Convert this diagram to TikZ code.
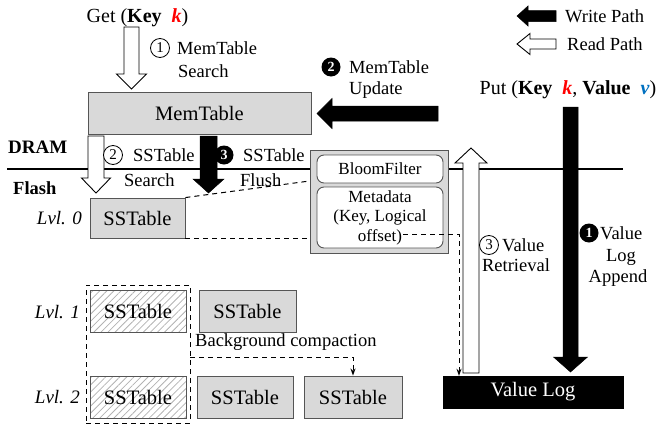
\documentclass[tikz,border=0pt]{standalone}
\usepackage{fontspec}
\setmainfont{Liberation Serif}
\usetikzlibrary{patterns.meta,arrows.meta}
\definecolor{boxgray}{HTML}{D9D9D9}
\definecolor{edgegray}{HTML}{555555}
\definecolor{vblue}{HTML}{0070C0}
\newcommand{\varr}[7]{%
 \draw[#1] ({#2-#6},#3) -- ({#2-#6},#4) -- ({#2-#7},#4) -- (#2,#5) -- ({#2+#7},#4) -- ({#2+#6},#4) -- ({#2+#6},#3) -- cycle;}
\newcommand{\harr}[7]{%
 \draw[#1] (#3,{#2-#6}) -- (#4,{#2-#6}) -- (#4,{#2-#7}) -- (#5,#2) -- (#4,{#2+#7}) -- (#4,{#2+#6}) -- (#3,{#2+#6}) -- cycle;}
\tikzset{
  wblock/.style={draw=black, fill=white, line width=0.9pt, line join=miter},
  bblock/.style={draw=black, fill=black, line width=0.5pt, line join=miter},
  lbl/.style={inner sep=0pt, font=\fontsize{18.5}{20}\selectfont},
  lvl/.style={inner sep=0pt, font=\fontsize{19}{20}\selectfont\itshape},
  bigbox/.style={draw=edgegray, fill=boxgray, line width=0.9pt, inner sep=0pt, font=\fontsize{20.5}{22}\selectfont},
  hatchbox/.style={draw=edgegray, line width=0.9pt, inner sep=0pt, font=\fontsize{20.5}{22}\selectfont,
     pattern={Lines[angle=45,distance=5pt,line width=0.8pt]}, pattern color=gray!60},
  rbox/.style={draw=edgegray, fill=white, rounded corners=7pt, line width=0.9pt, inner sep=0pt, align=center,
     font=\fontsize{17}{20}\selectfont},
  wcirc/.style={circle, draw=black, line width=0.8pt, fill=white, minimum size=19pt, inner sep=0pt,
     font=\fontsize{15}{15}\selectfont},
  bcirc/.style={circle, fill=black, text=white, minimum size=19pt, inner sep=0pt,
     font=\fontsize{14}{14}\selectfont\bfseries},
  dsh/.style={dashed, dash pattern=on 5pt off 4pt, line width=1pt},
}
\begin{document}
\begin{tikzpicture}[x=1pt,y=-1pt]
\useasboundingbox (0,0) rectangle (665,426);
% DRAM / Flash line
\coordinate (lineL) at (7,169);
\coordinate (lineR) at (623,169);
\draw[line width=2.5pt] (lineL) -- (lineR);
\node[inner sep=0pt, font=\fontsize{19}{20}\selectfont\bfseries, anchor=west] (dram) at (8,147) {DRAM};
\node[inner sep=0pt, font=\fontsize{18.5}{20}\selectfont\bfseries, anchor=west] (flash) at (13,188) {Flash};

% Legend
\harr{bblock}{16}{556}{528}{517}{5.5}{10}
\node[lbl, anchor=west] (wp) at (565,16) {Write Path};
\harr{wblock}{44}{556}{530}{517}{5}{10.5}
\node[lbl, anchor=west] (rp) at (567,44) {Read Path};

% Get
\node[inner sep=0pt, font=\fontsize{20}{22}\selectfont] (get) at (137.5,18) {Get (\textbf{Key}\ \ \textcolor{red}{\textbf{\textit{k}}})};
\varr{wblock}{131.5}{27}{74}{89}{7.5}{15}
\node[wcirc] (c1) at (160,48) {1};
\node[lbl, anchor=west] (ms1) at (177,48) {MemTable};
\node[lbl, anchor=west] (ms2) at (178,71) {Search};

% MemTable
\node[bigbox, minimum width=223pt, minimum height=42pt] (mem) at (199.5,113) {MemTable};

% MemTable Update
\harr{bblock}{113.5}{438}{332}{317}{7.5}{15}
\node[bcirc] (c2b) at (331,67) {2};
\node[lbl, anchor=west] (mu1) at (349,67) {MemTable};
\node[lbl, anchor=west] (mu2) at (349,90) {Update};

% Put
\node[inner sep=0pt, font=\fontsize{20}{22}\selectfont] (put) at (568,90)
  {Put (\textbf{Key}\ \ \textcolor{red}{\textbf{\textit{k}}}, \textbf{Value}\ \ \textcolor{vblue}{\textbf{\textit{v}}})};
\varr{bblock}{570.5}{107}{357}{372}{7.5}{17}
\node[bcirc] (c1b) at (589,233) {1};
\node[lbl, anchor=west] (va1) at (600,233) {Value};
\node[lbl] (va2) at (621,257) {Log};
\node[lbl] (va3) at (618,278) {Append};

% SSTable search / flush
\varr{wblock}{96}{136}{178}{193}{8}{14.5}
\node[wcirc] (c2) at (113,155) {2};
\node[lbl, anchor=west] (ss1) at (133,155) {SSTable};
\node[lbl, anchor=west] (ss2) at (124,180) {Search};
\varr{bblock}{208.5}{136}{179}{193}{8.5}{15.5}
\node[bcirc] (c3b) at (224,155) {3};
\node[lbl, anchor=west] (sf1) at (243,155) {SSTable};
\node[lbl, anchor=west] (sf2) at (240,180) {Flush};

% Level 0
\node[lvl, anchor=east] (l0) at (82,218) {Lvl. 0};
\node[bigbox, minimum width=95pt, minimum height=40pt] (sst0) at (137.5,218) {SSTable};

% metadata container
\node[draw=edgegray, fill=boxgray, line width=0.9pt, minimum width=138pt, minimum height=103pt, inner sep=0pt] (meta) at (379,201.5) {};
\node[rbox, minimum width=126pt, minimum height=28pt] (bloom) at (380,169) {BloomFilter};
\node[rbox, minimum width=126pt, minimum height=61pt] (md) at (380,217.5) {};
\node[inner sep=0pt, font=\fontsize{17}{20}\selectfont] (mdt1) at (380,197) {Metadata};
\node[inner sep=0pt, font=\fontsize{17}{20}\selectfont] (mdt2) at (380,217) {(Key, Logical};
\node[inner sep=0pt, font=\fontsize{17}{20}\selectfont] (mdt3) at (380,237) {offset)};

\coordinate (mt) at (meta.west |- 0,181);
\draw[dsh] (sst0.north east) -- (mt);
\draw[dsh] (sst0.south east) -- (meta.west |- sst0.south east);

% Value log
\node[draw=black, fill=black, text=white, minimum width=180pt, minimum height=32pt, inner sep=0pt,
      font=\fontsize{20.5}{22}\selectfont] (vlog) at (533,392) {Value Log};
\coordinate (mdr) at (403,234);
\coordinate (mdc) at (459,234);
\draw[dsh, -{Stealth[length=7pt,width=5pt]}] (mdr) -- (mdc) -- (mdc |- vlog.north);

% Value retrieval
\varr{wblock}{471}{373}{163}{148}{8}{16}
\node[wcirc] (c3) at (489,245) {3};
\node[lbl, anchor=west] (vr1) at (502,245) {Value};
\node[lbl] (vr2) at (516,265) {Retrieval};

% Levels 1 and 2
\node[lvl, anchor=east] (l1) at (80,312) {Lvl. 1};
\node[lvl, anchor=east] (l2) at (80,397) {Lvl. 2};
\node[hatchbox, minimum width=96pt, minimum height=42pt] (sst1a) at (138,311) {SSTable};
\node[bigbox, minimum width=97pt, minimum height=42pt] (sst1b) at (247.5,311) {SSTable};
\node[hatchbox, minimum width=96pt, minimum height=42pt] (sst2a) at (138,397) {SSTable};
\node[bigbox, minimum width=96pt, minimum height=42pt] (sst2b) at (245,397) {SSTable};
\node[bigbox, minimum width=98pt, minimum height=42pt] (sst2c) at (353,397) {SSTable};

\node[draw, dsh, minimum width=104pt, minimum height=138pt, inner sep=0pt] (grp) at (138,354) {};
\coordinate (cs) at (190,357);
\coordinate (ce) at (353,357);
\draw[dsh, -{Stealth[length=7pt,width=5pt]}] (cs) -- (ce) -- (sst2c.north);
\node[lbl, anchor=west] (bg) at (195,342) {Background compaction};
\end{tikzpicture}
\end{document}
